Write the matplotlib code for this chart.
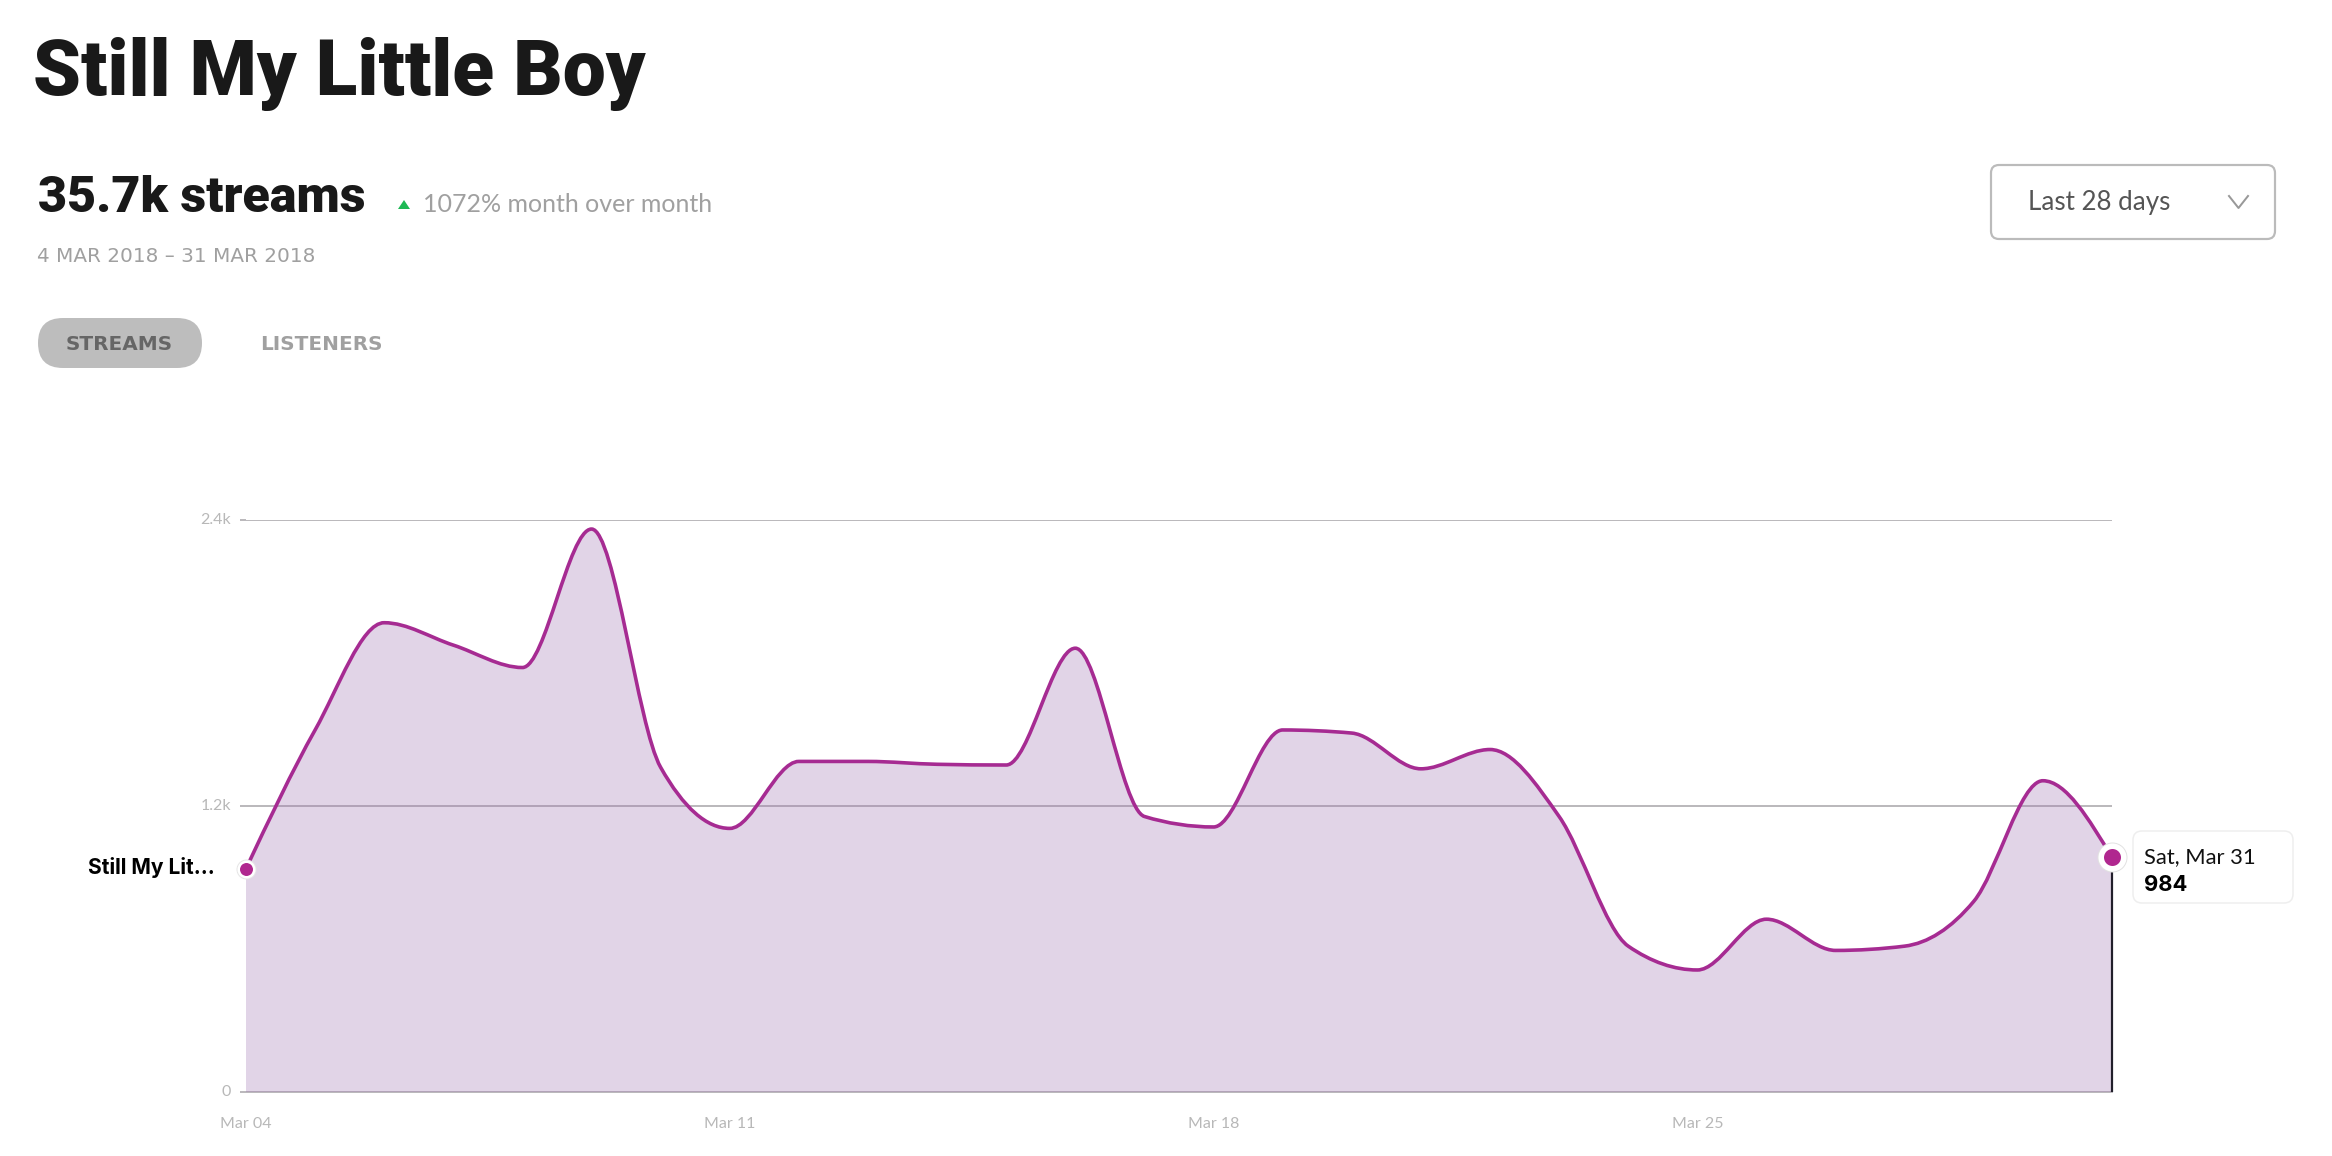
#!/usr/bin/env python3

import numpy as np
import matplotlib
matplotlib.use('Agg')
import matplotlib.pyplot as plt
from matplotlib.patches import FancyBboxPatch, PathPatch, Polygon
from matplotlib.path import Path
from matplotlib.transforms import ScaledTranslation

days = ['Mar 04', 'Mar 05', 'Mar 06', 'Mar 07', 'Mar 08', 'Mar 09', 'Mar 10',
        'Mar 11', 'Mar 12', 'Mar 13', 'Mar 14', 'Mar 15', 'Mar 16', 'Mar 17',
        'Mar 18', 'Mar 19', 'Mar 20', 'Mar 21', 'Mar 22', 'Mar 23', 'Mar 24',
        'Mar 25', 'Mar 26', 'Mar 27', 'Mar 28', 'Mar 29', 'Mar 30', 'Mar 31']
streams = [937, 1519, 1969, 1875, 1781, 2362, 1362,
           1106, 1387, 1387, 1375, 1372, 1862, 1156,
           1112, 1519, 1506, 1356, 1437, 1156, 612,
           512, 725, 594, 612, 800, 1306, 984]
y_ticks = [0, 1200, 2400]
y_labels = ['0', '1.2k', '2.4k']
x_ticks = ['Mar 04', 'Mar 11', 'Mar 18', 'Mar 25']

W, H = 2332, 1156
PURPLE = '#a62b92'
DOT = '#b0278f'
GRID = '#bbb9bc'
SOFT = '#b8b8b8'
GREY = '#a0a0a0'
HEAVY = 'Roboto'
BOLD = 'Inter'
PLAIN = 'Lato'


def monotone_path(x, y):
    # same curve a d3 monotoneX line would give
    x = np.asarray(x, float)
    y = np.asarray(y, float)
    s = np.diff(y) / np.diff(x)
    t = np.zeros(len(y))
    for i in range(1, len(y) - 1):
        p = (s[i - 1] + s[i]) / 2
        t[i] = (np.sign(s[i - 1]) + np.sign(s[i])) * min(abs(s[i - 1]), abs(s[i]), 0.5 * abs(p))
    t[0] = (3 * s[0] - t[1]) / 2
    t[-1] = (3 * s[-1] - t[-2]) / 2
    verts = [(x[0], y[0])]
    codes = [Path.MOVETO]
    for i in range(len(x) - 1):
        dx = (x[i + 1] - x[i]) / 3
        verts += [(x[i] + dx, y[i] + dx * t[i]),
                  (x[i + 1] - dx, y[i + 1] - dx * t[i + 1]),
                  (x[i + 1], y[i + 1])]
        codes += [Path.CURVE4] * 3
    return verts, codes


def px(size):
    return size * 0.72


fig = plt.figure(figsize=(W / 100, H / 100), dpi=100, facecolor='white')

# page furniture is placed in picture pixels
page = fig.add_axes([0, 0, 1, 1])
page.set_xlim(0, W)
page.set_ylim(H, 0)
page.axis('off')

ax = fig.add_axes([246 / W, 1 - 1092 / H, (2112 - 246) / W, (1092 - 520) / H])
ax.set_xlim(0, len(days) - 1)
ax.set_ylim(0, 2400)
ax.patch.set_alpha(0)
for side in ax.spines.values():
    side.set_visible(False)

x = np.arange(len(days))
verts, codes = monotone_path(x, streams)

ax.set_axisbelow(True)
ax.set_yticks(y_ticks, y_labels, family=PLAIN, fontsize=px(16), color=SOFT)
ax.set_xticks([days.index(d) for d in x_ticks], x_ticks, family=PLAIN, fontsize=px(16), color=SOFT)
ax.tick_params(axis='y', length=px(6), width=px(2), color=GRID, pad=px(9))
ax.tick_params(axis='x', length=0, pad=px(25))
ax.grid(axis='y', color=GRID, linewidth=px(2))
ax.get_ygridlines()[0].set_clip_on(False)
for label in ax.get_yticklabels():
    label.set_transform(label.get_transform() + ScaledTranslation(0, 1.5 / 100, fig.dpi_scale_trans))

fill = Path(verts + [(x[-1], 0), (x[0], 0), (x[0], streams[0])],
            codes + [Path.LINETO, Path.LINETO, Path.LINETO])
ax.add_patch(PathPatch(fill, facecolor='#9e73b2', alpha=0.3, edgecolor='none', zorder=2))
ax.add_patch(PathPatch(Path(verts, codes), facecolor='none', edgecolor=PURPLE,
                       linewidth=px(3.6), capstyle='round', zorder=3))
ax.plot([x[-1], x[-1]], [0, streams[-1]], color='#221f2b', linewidth=px(2.2), zorder=4,
        solid_capstyle='butt', clip_on=False)

ax.plot(x[0], streams[0], 'o', ms=px(20), mfc='#e6e6e6', mew=0, zorder=5, clip_on=False)
ax.plot(x[0], streams[0], 'o', ms=px(15.5), mfc=DOT, mec='white', mew=px(2.5), zorder=5, clip_on=False)
ax.plot(x[-1], streams[-1], 'o', ms=px(30), mfc='#e2e2e2', mew=0, zorder=5, clip_on=False)
ax.plot(x[-1], streams[-1], 'o', ms=px(22.5), mfc=DOT, mec='white', mew=px(5.5), zorder=5, clip_on=False)

page.text(33, 95, 'Still My Little Boy', family=HEAVY, weight='black', fontsize=px(76.8), color='#191919')
page.text(38, 212, '35.7k streams', family=HEAVY, weight='black', fontsize=px(50.3), color='#191919')
page.add_patch(Polygon([(398, 209), (410, 209), (404, 200)], closed=True, facecolor='#1db954', edgecolor='none'))
page.text(423, 212, '1072% month over month', family=PLAIN, fontsize=px(25), color=GREY)
page.text(37, 262, '4 MAR 2018 – 31 MAR 2018', family='DejaVu Sans', fontsize=px(20), color=GREY)

page.add_patch(FancyBboxPatch((38 + 25, 318 + 25), 164 - 50, 0, boxstyle='round,pad=25,rounding_size=25',
                              facecolor='#bdbdbd', edgecolor='none'))
page.text(66, 350, 'STREAMS', family='DejaVu Sans', weight='bold', fontsize=px(20), color='#666666')
page.text(260, 350, 'LISTENERS', family='DejaVu Sans', weight='bold', fontsize=px(20), color=GREY)

page.add_patch(FancyBboxPatch((1991 + 8, 165 + 8), 284 - 16, 74 - 16, boxstyle='round,pad=8,rounding_size=8',
                              facecolor='white', edgecolor='#bbbbbb', linewidth=px(2.2)))
page.text(2028, 210, 'Last 28 days', family=PLAIN, fontsize=px(26), color='#555555')
page.plot([2229, 2238.5, 2248], [196, 208, 196], color='#999999', linewidth=px(2))

page.add_patch(FancyBboxPatch((2133 + 9, 831 + 9), 160 - 18, 72 - 18, boxstyle='round,pad=9,rounding_size=9',
                              facecolor='white', edgecolor='#eeeeee', linewidth=px(1.5)))
page.text(2144, 863, 'Sat, Mar 31', family=PLAIN, fontsize=px(22), color='#111111')
page.text(2144, 891, '984', family=BOLD, weight='bold', fontsize=px(22), color='black')
page.text(88, 874, 'Still My Lit...', family=BOLD, weight='bold', fontsize=px(21), color='black')

fig.savefig('out.png', dpi=100)
